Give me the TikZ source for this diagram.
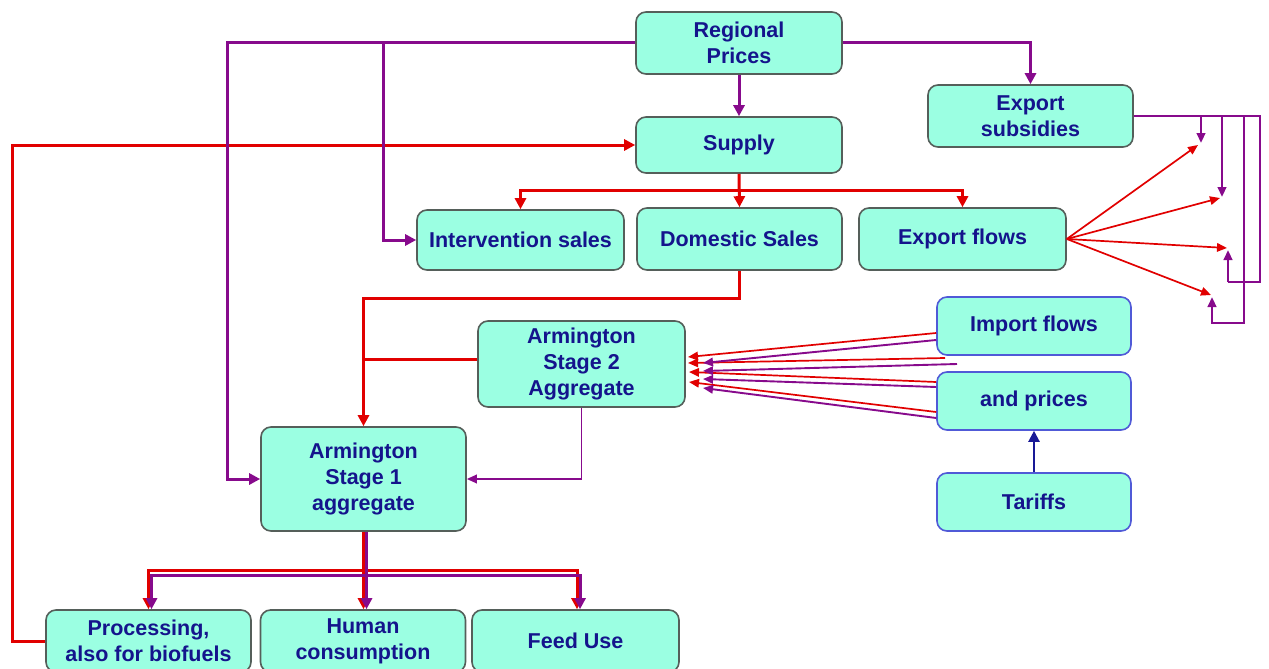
\documentclass[tikz,border=0pt]{standalone}
\usepackage{fontspec}
\setmainfont{Liberation Sans}
\usetikzlibrary{arrows.meta}
\definecolor{boxfill}{RGB}{155,255,226}
\definecolor{boxline}{RGB}{85,95,90}
\definecolor{bluebox}{RGB}{80,90,215}
\definecolor{txt}{RGB}{20,20,140}
\definecolor{pur}{RGB}{135,10,140}
\definecolor{rd}{RGB}{225,0,0}
\definecolor{nav}{RGB}{25,25,150}
\begin{document}
\begin{tikzpicture}[x=1pt,y=-1pt,
  box/.style={draw=boxline, line width=1.6pt, fill=boxfill, rounded corners=10pt,
    text=txt, font=\fontsize{21.5}{26}\selectfont\bfseries, align=center, inner sep=0pt},
  bbox/.style={box, draw=bluebox},
  bigtip/.tip={Triangle[length=11pt,width=11pt]},
  smalltip/.tip={Triangle[length=10pt,width=8.5pt]},
  rl/.style={draw=rd, line width=3pt},
  pl/.style={draw=pur, line width=3pt},
  rthin/.style={draw=rd, line width=1.7pt},
  pthin/.style={draw=pur, line width=1.9pt},
  sl/.style={draw=pur, line width=2.6pt},
  nl/.style={draw=nav, line width=2.2pt}
]
\useasboundingbox (0,0) rectangle (1269,669);

% nodes
\node[box, minimum width=206pt, minimum height=62pt] (rp) at (739,43) {Regional\\Prices};
\node[box, minimum width=205pt, minimum height=62pt] (es) at (1030.5,116) {Export\\subsidies};
\node[box, minimum width=206pt, minimum height=56pt] (sup) at (739,145) {Supply};
\node[box, minimum width=207pt, minimum height=60pt] (int) at (520.5,240) {Intervention sales};
\node[box, minimum width=205pt, minimum height=62pt] (dom) at (739.5,239) {Domestic Sales};
\node[box, minimum width=207pt, minimum height=62pt] (exf) at (962.5,239) {Export flows};
\node[box, minimum width=207pt, minimum height=86pt] (ar2) at (581.5,364) {Armington\\Stage 2\\Aggregate};
\node[box, minimum width=205pt, minimum height=104pt] (ar1) at (363.5,479) {Armington\\Stage 1\\aggregate};
\node[bbox, minimum width=194pt, minimum height=58pt] (imp) at (1034,326) {Import flows};
\node[bbox, minimum width=194pt, minimum height=58pt] (pri) at (1034,401) {and prices};
\node[bbox, minimum width=194pt, minimum height=58pt] (tar) at (1034,502) {Tariffs};
\node[box, minimum width=205pt, minimum height=62pt] (pro) at (148.5,641) {Processing,\\also for biofuels};
\node[box, minimum width=205pt, minimum height=62pt] (hum) at (363,641) {Human\\consumption};
\node[box, minimum width=207pt, minimum height=62pt] (feed) at (575.5,641) {Feed Use};

% coordinates
\coordinate (j1) at (383,43);
\coordinate (fb) at (12,641);
\coordinate (t1) at (1198,145);
\coordinate (t2) at (1220,198);
\coordinate (t3) at (1227,248);
\coordinate (t4) at (1211,295);
\coordinate (m1) at (945,358);
\coordinate (m2) at (957,364);

% red connectors
\draw[rl,-bigtip] (pro.west) -- (fb) |- (sup.west);
\draw[rl,-bigtip] (sup.south) -- (dom.north);
\draw[rl,-bigtip] (sup.south) ++(0,17) -| (int.north);
\draw[rl,-bigtip] (sup.south) ++(0,17) -| (exf.north);
\draw[rl,-bigtip] (dom.south) -- ++(0,28) -| (ar1.north);
\draw[rl] ([yshift=5pt]ar2.west) -- ++(-114.5,0);
\draw[rl,-bigtip] (ar1.south) -- (ar1.south |- hum.north);
\draw[rl,-bigtip] (ar1.south) -- ++(0,39) -| (pro.north);
\draw[rl,-bigtip] (ar1.south) -- ++(0,39) -| ([xshift=1.5pt]feed.north);

% purple connectors
\draw[pl,-bigtip] (rp.west) -| ([xshift=-33pt]ar1.west) -- (ar1.west);
\draw[pl,-bigtip] (j1) |- (int.west);
\draw[pl,-bigtip] (rp.south) -- (sup.north);
\draw[pl,-bigtip] (rp.east) -| (es.north);
\draw[pthin,-smalltip] (ar2.south) |- (ar1.east);
\draw[pl,-bigtip] ([xshift=3pt]ar1.south) -- ++(0,44) -| ([xshift=3pt]pro.north);
\draw[pl,-bigtip] ([xshift=3pt]ar1.south) -- ([xshift=3pt]ar1.south |- hum.north);
\draw[pl,-bigtip] ([xshift=3pt]ar1.south) -- ++(0,44) -| ([xshift=4.5pt]feed.north);

% export flows fan
\draw[rthin,-smalltip] (exf.east) -- (t1);
\draw[rthin,-smalltip] (exf.east) -- (t2);
\draw[rthin,-smalltip] (exf.east) -- (t3);
\draw[rthin,-smalltip] (exf.east) -- (t4);

% export subsidies lines
\draw[sl] (es.east) -- (1260,116) -- (1260,282) -- (1228,282);
\draw[sl,-smalltip] (1228,282) -- (1228,250);
\draw[sl,-smalltip] (1201,116) -- (1201,143);
\draw[sl,-smalltip] (1222,116) -- (1222,197);
\draw[sl,-smalltip] (1244,116) -- (1244,323) -- (1212,323) -- (1212,297);

% import fan
\draw[rthin,-smalltip] ([yshift=-7pt]imp.west) -- (688,357);
\draw[rthin,-smalltip] (m1) -- (688,363);
\draw[rthin,-smalltip] ([yshift=19pt]pri.west) -- (689,372);
\draw[rthin,-smalltip] ([yshift=-11pt]pri.west) -- (689,382);
\draw[pthin,-smalltip] ([yshift=-14pt]imp.west) -- (703,363);
\draw[pthin,-smalltip] (m2) -- (703,371);
\draw[pthin,-smalltip] ([yshift=14pt]pri.west) -- (703,379);
\draw[pthin,-smalltip] ([yshift=-17pt]pri.west) -- (703,388);

% tariffs
\draw[nl,-bigtip] (tar.north) -- (pri.south);
\end{tikzpicture}
\end{document}
